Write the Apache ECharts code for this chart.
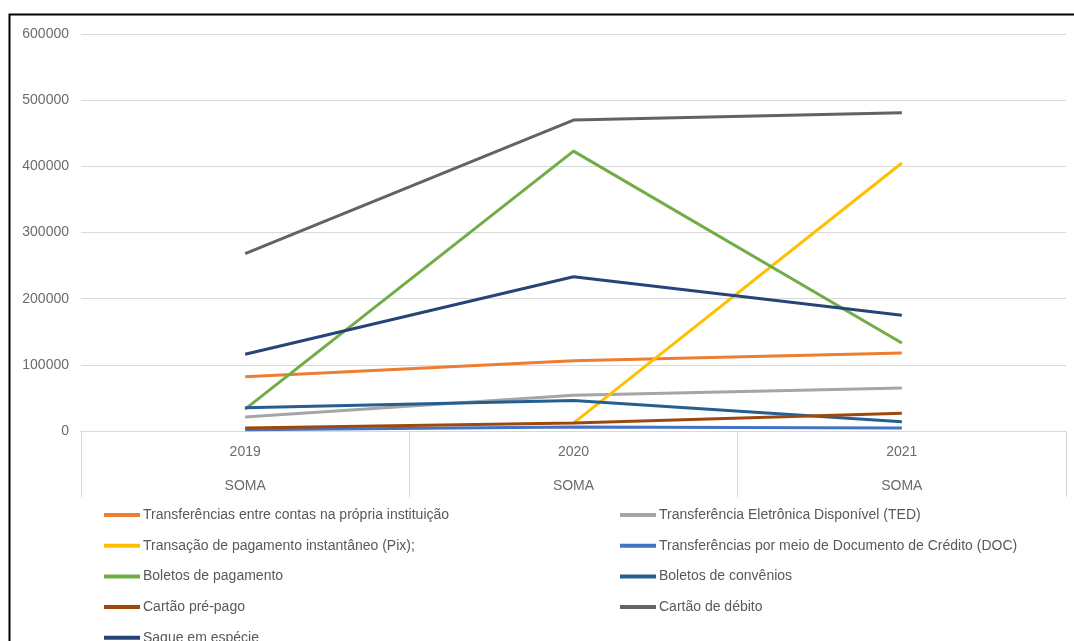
<!DOCTYPE html>
<html>
<head>
<meta charset="utf-8">
<script src="https://cdn.jsdelivr.net/npm/echarts@6/dist/echarts.min.js"></script>
<style>
html,body{margin:0;padding:0;background:#fff;}
#c{width:1074px;height:641px;}
</style>
</head>
<body>
<div id="c"></div>
<script>
var categories = ['2019', '2020', '2021'];
var subLabel = 'SOMA';
var yTicks = [0, 100000, 200000, 300000, 400000, 500000, 600000];

var transfContas = [82000, 106000, 118000];
var ted = [21000, 54000, 65000];
var pix = [null, 12000, 405000];
var doc = [2000, 6000, 4500];
var boletosPag = [33000, 423000, 133000];
var boletosConv = [35000, 46000, 14000];
var cartaoPre = [4500, 12000, 27000];
var cartaoDeb = [268000, 470000, 481000];
var saque = [116000, 233000, 175000];

var names = [
  'Transferências entre contas na própria instituição',
  'Transferência Eletrônica Disponível (TED)',
  'Transação de pagamento instantâneo (Pix);',
  'Transferências por meio de Documento de Crédito (DOC)',
  'Boletos de pagamento',
  'Boletos de convênios',
  'Cartão pré-pago',
  'Cartão de débito',
  'Saque em espécie'
];
var values = [transfContas, ted, pix, doc, boletosPag, boletosConv, cartaoPre, cartaoDeb, saque];
var colors = ['#ED7D31', '#A5A5A5', '#FFC000', '#4472C4', '#70AD47', '#255E91', '#9E480E', '#636363', '#264478'];

var series = names.map(function (n, i) {
  return {
    name: n,
    type: 'line',
    data: values[i],
    showSymbol: false,
    symbol: 'none',
    lineStyle: { width: 3, color: colors[i] },
    itemStyle: { color: colors[i] },
    connectNulls: false,
    animation: false
  };
});

var legendText = { color: '#595959', fontSize: 14, fontFamily: 'Liberation Sans, Arial, sans-serif', lineHeight: 16, padding: [0, 0, 0, -2] };
var leftNames = [names[0], names[2], names[4], names[6], names[8]];
var rightNames = [names[1], names[3], names[5], names[7]];

var chart = echarts.init(document.getElementById('c'), null, { renderer: 'canvas' });
chart.setOption({
  animation: false,
  color: colors,
  grid: { left: 81, right: 8, top: 34, bottom: 210, containLabel: false },
  xAxis: {
    type: 'category',
    data: categories,
    boundaryGap: true,
    axisLine: { show: true, lineStyle: { color: '#D9D9D9', width: 1 } },
    axisTick: { show: true, length: 66, lineStyle: { color: '#D9D9D9', width: 1 } },
    axisLabel: {
      color: '#6B6B6B', fontSize: 14, fontFamily: 'Liberation Sans, Arial, sans-serif',
      margin: 4, lineHeight: 34,
      formatter: function (v) { return v + '\n' + subLabel; }
    }
  },
  yAxis: {
    type: 'value',
    min: yTicks[0], max: yTicks[yTicks.length - 1], interval: 100000,
    axisLine: { show: false },
    axisTick: { show: false },
    splitLine: { lineStyle: { color: '#D9D9D9', width: 1 } },
    axisLabel: {
      color: '#6B6B6B', fontSize: 14, fontFamily: 'Liberation Sans, Arial, sans-serif', margin: 12,
      formatter: function (v) { return String(v); }
    }
  },
  legend: [
    {
      data: leftNames, orient: 'vertical', left: 104, top: 507, height: 300, padding: 0,
      itemWidth: 36, itemHeight: 4, icon: 'rect', itemGap: 14.7,
      textStyle: legendText, selectedMode: false
    },
    {
      data: rightNames, orient: 'vertical', left: 620, top: 507, height: 300, padding: 0,
      itemWidth: 36, itemHeight: 4, icon: 'rect', itemGap: 14.7,
      textStyle: legendText, selectedMode: false
    }
  ],
  graphic: [
    {
      type: 'rect', left: 7, top: 12, silent: true,
      shape: { x: 0, y: 0, width: 1200, height: 800 },
      style: { fill: 'none', stroke: '#000', lineWidth: 2 }
    }
  ],
  series: series
});
</script>
</body>
</html>
